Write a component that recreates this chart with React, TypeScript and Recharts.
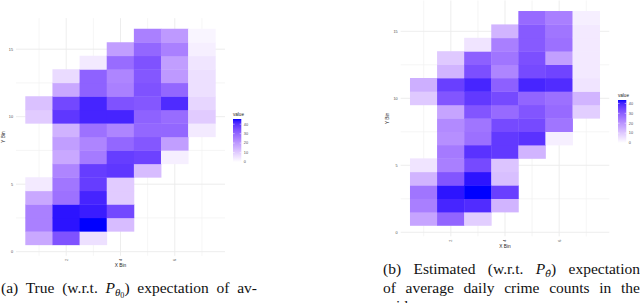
import { CartesianGrid, Label, Scatter, ScatterChart, XAxis, YAxis } from "recharts";

const xTicks = [2, 4, 6];
const xMinorBreaks = [1, 3, 5, 7];
const yTicks = [0, 5, 10, 15];
const yMinorBreaks = [2.5, 7.5, 12.5];
const legendBreaks = [0, 10, 20, 30, 40];

// one list per X bin (1..7), values from Y bin 1 up to Y bin 16; null = no tile
const trueCounts: (number | null)[][] = [
  [17, 25, 25, 17, 4, null, null, null, null, 10, 12, null, null, null, null, null],
  [34, 44, 44, 28, 27, 24, 17, 19, 15, 39, 36, 17, 7, null, null, null],
  [6, 45.5, 43, 42, 38, 38, 26, 24, 28, 42, 42, 31, 31, 4, null, null],
  [null, 13, 36, 10, 10, 39, 38, 30, 24, 42, 34, 25, 24, 29, 19, null],
  [null, null, null, null, null, 13, 37, 33, 30, 31, 33, 34, 33, 34, 30, 25],
  [null, null, null, null, null, null, 3, 19, 30, 29, 41, 30, 20, 19, 25, 20],
  [null, null, null, null, null, null, null, null, 4, 10, 8, 6, 6, 5, 3, 2],
];

const estimatedCounts: (number | null)[][] = [
  [17, 24, 26, 14, 5, null, null, null, null, 10, 15, null, null, null, null, null],
  [29, 40, 42, 32, 24, 25, 21, 22, 17, 32, 36, 14, 10, null, null, null],
  [9, 39, 43.5, 42, 34, 38, 27, 26, 32, 37, 40, 33, 30, 5, null, null],
  [null, 14, 36, 12, 11, 37, 37, 34, 28, 34, 30, 23, 26, 24, 14, null],
  [null, null, null, null, null, 14, 38, 34, 32, 29, 40, 34, 33, 31, 31, 28],
  [null, null, null, null, null, null, 3, 26, 28, 27, 39, 35, 18, 27, 26, 24],
  [null, null, null, null, null, null, null, null, 9, 14, 5, 4, 4, 4, 4, 3],
];

const X_DOMAIN: [number, number] = [0.15, 7.85];
const Y_DOMAIN: [number, number] = [-0.3, 17.3];

// white -> blue, mixed in CIELAB like ggplot's scale_fill_gradient
const LOW_LAB = [100, 0, 0];
const HIGH_LAB = [32.3, 79.19, -107.86];

function labToHex(L: number, a: number, b: number) {
  const fy = (L + 16) / 116;
  const fx = fy + a / 500;
  const fz = fy - b / 200;
  const inv = (t: number) => (t ** 3 > 0.008856 ? t ** 3 : (t - 16 / 116) / 7.787);
  const X = 0.95047 * inv(fx);
  const Y = inv(fy);
  const Z = 1.08883 * inv(fz);
  const lin = [
    3.2406 * X - 1.5372 * Y - 0.4986 * Z,
    -0.9689 * X + 1.8758 * Y + 0.0415 * Z,
    0.0557 * X - 0.204 * Y + 1.057 * Z,
  ];
  return (
    "#" +
    lin
      .map((c) => {
        const v = Math.min(1, Math.max(0, c));
        const s = v <= 0.0031308 ? 12.92 * v : 1.055 * v ** (1 / 2.4) - 0.055;
        return Math.round(s * 255).toString(16).padStart(2, "0");
      })
      .join("")
  );
}

function fillAt(t: number) {
  const k = Math.min(1, Math.max(0, t));
  return labToHex(
    LOW_LAB[0] + (HIGH_LAB[0] - LOW_LAB[0]) * k,
    LOW_LAB[1] + (HIGH_LAB[1] - LOW_LAB[1]) * k,
    LOW_LAB[2] + (HIGH_LAB[2] - LOW_LAB[2]) * k
  );
}

type Tile = { x: number; y: number; value: number };

function toTiles(grid: (number | null)[][]): Tile[] {
  const tiles: Tile[] = [];
  grid.forEach((column, xi) => {
    column.forEach((value, yi) => {
      if (value !== null) tiles.push({ x: xi + 1, y: yi + 1, value });
    });
  });
  return tiles;
}

type PanelLayout = {
  left: number;
  width: number;
  height: number;
  margin: { top: number; right: number; bottom: number; left: number };
  yAxisWidth: number;
  xAxisHeight: number;
  legendX: number;
  legendY: number;
};

const leftLayout: PanelLayout = {
  left: 0,
  width: 232,
  height: 272,
  margin: { top: 18.15, right: 7, bottom: 2.25, left: 0 },
  yAxisWidth: 16,
  xAxisHeight: 14,
  legendX: 233,
  legendY: 108.7,
};

const rightLayout: PanelLayout = {
  left: 384,
  width: 232,
  height: 252,
  margin: { top: 0.5, right: 6.7, bottom: 1.7, left: 0 },
  yAxisWidth: 16.7,
  xAxisHeight: 14,
  legendX: 617.7,
  legendY: 89.7,
};

const AXIS_FONT = '"Liberation Sans", Arial, sans-serif';

function ColorBar({ x, y, max, id }: { x: number; y: number; max: number; id: string }) {
  const barW = 8.3;
  const barH = 43;
  const barTop = 10;
  const stops = Array.from({ length: 21 }, (_, i) => i / 20);
  return (
    <svg
      style={{ position: "absolute", left: x, top: y, overflow: "visible" }}
      width={30}
      height={60}
    >
      <defs>
        <linearGradient id={id} x1="0" y1="1" x2="0" y2="0">
          {stops.map((s) => (
            <stop key={s} offset={s} stopColor={fillAt(s)} />
          ))}
        </linearGradient>
      </defs>
      <text x={0} y={6.9} fontSize={4.6} fontFamily={AXIS_FONT} fill="#222">
        value
      </text>
      <rect x={0} y={barTop} width={barW} height={barH} fill={`url(#${id})`} />
      {legendBreaks.map((b) => {
        const ty = barTop + barH - (b / max) * barH;
        return (
          <g key={b}>
            <line x1={0} x2={1.6} y1={ty} y2={ty} stroke="#fff" strokeWidth={0.5} />
            <line x1={barW - 1.6} x2={barW} y1={ty} y2={ty} stroke="#fff" strokeWidth={0.5} />
            <text
              x={barW + 2.5}
              y={ty}
              dy="0.35em"
              fontSize={3.8}
              fontFamily={AXIS_FONT}
              fill="#4d4d4d"
            >
              {b}
            </text>
          </g>
        );
      })}
    </svg>
  );
}

function HeatmapPanel({ counts, layout, id }: { counts: (number | null)[][]; layout: PanelLayout; id: string }) {
  const tiles = toTiles(counts);
  const max = Math.max(...tiles.map((t) => t.value));
  const plotW = layout.width - layout.margin.left - layout.margin.right - layout.yAxisWidth;
  const plotH = layout.height - layout.margin.top - layout.margin.bottom - layout.xAxisHeight;
  const cellW = plotW / (X_DOMAIN[1] - X_DOMAIN[0]);
  const cellH = plotH / (Y_DOMAIN[1] - Y_DOMAIN[0]);

  return (
    <>
      <div style={{ position: "absolute", left: layout.left, top: 0 }}>
        <ScatterChart width={layout.width} height={layout.height} margin={layout.margin}>
          <CartesianGrid
            horizontalValues={yMinorBreaks}
            verticalValues={xMinorBreaks}
            stroke="#F1F1F1"
            strokeWidth={0.7}
          />
          <CartesianGrid horizontalValues={yTicks} verticalValues={xTicks} stroke="#EBEBEB" strokeWidth={0.9} />
          <XAxis
            type="number"
            dataKey="x"
            domain={X_DOMAIN}
            ticks={xTicks}
            interval={0}
            allowDataOverflow
            axisLine={false}
            tickLine={false}
            tickSize={0}
            tickMargin={4.3}
            height={layout.xAxisHeight}
            tick={({ x, y, payload }: any) => (
              <text
                x={x}
                y={y}
                transform={`rotate(-90 ${x} ${y})`}
                textAnchor="middle"
                dy="0.35em"
                fontSize={3.8}
                fontFamily={AXIS_FONT}
                fill="#4d4d4d"
              >
                {payload.value}
              </text>
            )}
          >
            <Label
              content={({ viewBox }: any) => (
                <text
                  x={viewBox.x + viewBox.width / 2}
                  y={viewBox.y + 10}
                  dy="0.35em"
                  textAnchor="middle"
                  fontSize={4.8}
                  fontFamily={AXIS_FONT}
                  fill="#222"
                >
                  X Bin
                </text>
              )}
            />
          </XAxis>
          <YAxis
            type="number"
            dataKey="y"
            domain={Y_DOMAIN}
            ticks={yTicks}
            interval={0}
            allowDataOverflow
            axisLine={false}
            tickLine={false}
            tickSize={0}
            tickMargin={3}
            width={layout.yAxisWidth}
            tick={({ x, y, payload }: any) => (
              <text
                x={x}
                y={y}
                dy="0.35em"
                textAnchor="end"
                fontSize={3.8}
                fontFamily={AXIS_FONT}
                fill="#4d4d4d"
              >
                {payload.value}
              </text>
            )}
          >
            <Label
              content={({ viewBox }: any) => {
                const lx = viewBox.x + 3.8;
                const ly = viewBox.y + viewBox.height / 2;
                return (
                  <text
                    x={lx}
                    y={ly}
                    transform={`rotate(-90 ${lx} ${ly})`}
                    dy="0.35em"
                    textAnchor="middle"
                    fontSize={4.8}
                    fontFamily={AXIS_FONT}
                    fill="#222"
                  >
                    Y Bin
                  </text>
                );
              }}
            />
          </YAxis>
          <Scatter
            data={tiles}
            isAnimationActive={false}
            shape={({ cx, cy, payload }: any) => (
              <rect
                x={cx - cellW / 2 - 0.2}
                y={cy - cellH / 2 - 0.2}
                width={cellW + 0.4}
                height={cellH + 0.4}
                fill={fillAt(payload.value / max)}
              />
            )}
          />
        </ScatterChart>
      </div>
      <ColorBar x={layout.legendX} y={layout.legendY} max={max} id={id} />
    </>
  );
}

const captionBox: React.CSSProperties = {
  position: "absolute",
  width: 256,
  fontFamily: '"Liberation Serif", "Times New Roman", serif',
  fontSize: 15.5,
  lineHeight: "18.5px",
  color: "#111",
};

const justified: React.CSSProperties = { textAlign: "justify", textAlignLast: "justify" };
const sub: React.CSSProperties = { fontSize: "0.7em", verticalAlign: "-0.3em", lineHeight: 1 };
const subsub: React.CSSProperties = { fontSize: "0.75em", verticalAlign: "-0.25em", lineHeight: 1 };

export default function App() {
  return (
    <div
      style={{
        position: "absolute",
        left: 0,
        top: 0,
        width: 640,
        height: 303,
        overflow: "hidden",
        background: "#fff",
      }}
    >
      <HeatmapPanel counts={trueCounts} layout={leftLayout} id="barTrue" />
      <HeatmapPanel counts={estimatedCounts} layout={rightLayout} id="barEst" />

      <div style={{ ...captionBox, left: 1, top: 278.5 }}>
        <div style={justified}>
          (a) True (w.r.t. <i>P</i>
          <span style={sub}>
            <i>θ</i>
            <span style={subsub}>0</span>
          </span>
          ) expectation of av-
        </div>
        <div style={justified}>erage daily crime counts in the grid</div>
      </div>

      <div style={{ ...captionBox, left: 383, top: 260, width: 257 }}>
        <div style={justified}>
          (b) Estimated (w.r.t. <i>P</i>
          <span style={{ ...sub, fontFamily: '"DejaVu Serif", serif', fontStyle: "italic", fontSize: "0.62em" }}>
            {"θ\u0302"}
          </span>
          ) expectation
        </div>
        <div style={justified}>of average daily crime counts in the</div>
        <div>grid</div>
      </div>
    </div>
  );
}
